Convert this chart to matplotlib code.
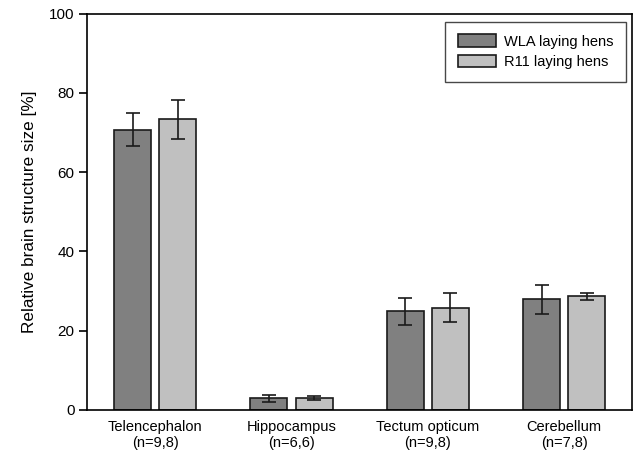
import numpy as np
import matplotlib
matplotlib.use("Agg")
import matplotlib.pyplot as plt

plt.rcParams['font.family'] = ['Liberation Sans', 'DejaVu Sans']

# categories and values
categories = ["Telencephalon\n(n=9,8)", "Hippocampus\n(n=6,6)",
              "Tectum opticum\n(n=9,8)", "Cerebellum\n(n=7,8)"]
wla_mean = [70.7, 2.9, 24.9, 27.9]
wla_err = [4.2, 0.8, 3.4, 3.6]
r11_mean = [73.4, 3.0, 25.8, 28.7]
r11_err = [4.9, 0.4, 3.6, 0.9]

fig = plt.figure(figsize=(6.4, 4.58), dpi=100)
ax = fig.add_axes([0.136, 0.105, 0.852, 0.865])

x = np.arange(len(categories)) + 0.5
w = 0.27
off = 0.166
ekw = dict(elinewidth=1.2, capthick=1.2, ecolor='#1a1a1a')
ax.bar(x - off, wla_mean, w, yerr=wla_err, capsize=5, color='#808080',
       edgecolor='#1a1a1a', linewidth=1.2, error_kw=ekw, label='WLA laying hens')
ax.bar(x + off, r11_mean, w, yerr=r11_err, capsize=5, color='#c0c0c0',
       edgecolor='#1a1a1a', linewidth=1.2, error_kw=ekw, label='R11 laying hens')

ax.set_xlim(0, 4)
ax.set_ylim(0, 100)
ax.set_yticks([0, 20, 40, 60, 80, 100])
ax.set_xticks(x)
ax.set_xticklabels(categories, fontsize=10.5)
ax.tick_params(axis='x', length=0, pad=7)
ax.tick_params(axis='y', direction='out', length=6, width=1.2, labelsize=11, pad=3)
for s in ax.spines.values():
    s.set_linewidth(1.2)
ax.set_ylabel("Relative brain structure size [%]", fontsize=12.3, labelpad=9)

leg = ax.legend(loc='upper right', fontsize=10.5, frameon=True, fancybox=False,
                edgecolor='#1a1a1a', handlelength=2.6, handleheight=0.9,
                handletextpad=0.6, labelspacing=0.45, borderpad=0.85,
                borderaxespad=0.3, bbox_to_anchor=(0.997, 0.99))
leg.get_frame().set_linewidth(1.0)

fig.savefig("out.png", dpi=100)
